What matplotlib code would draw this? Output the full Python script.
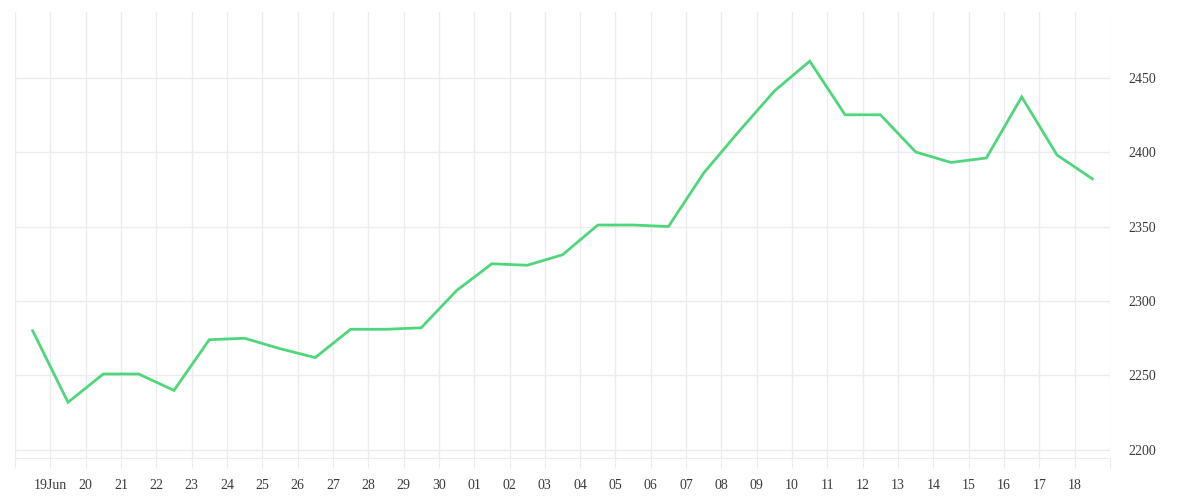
import matplotlib.pyplot as plt

# daily values, 18 Jun .. 18 Jul (plotted at midday)
values = [2280, 2232, 2251, 2251, 2240, 2274, 2275, 2268, 2262, 2281,
          2281, 2282, 2307, 2325, 2324, 2331, 2351, 2351, 2350, 2386,
          2414, 2441, 2461, 2425, 2425, 2400, 2393, 2396, 2437, 2398,
          2382]
day_labels = ["", "19Jun", "20", "21", "22", "23", "24", "25", "26", "27",
              "28", "29", "30", "01", "02", "03", "04", "05", "06", "07",
              "08", "09", "10", "11", "12", "13", "14", "15", "16", "17",
              "18", ""]
y_ticks = [2200, 2250, 2300, 2350, 2400, 2450]

fig = plt.figure(figsize=(12, 5), dpi=100)
ax = fig.add_axes([15 / 1200, 42 / 500, 1095 / 1200, 446 / 500])

xs = [i + 0.5 for i in range(len(values))]
ax.plot(xs, values, color='#4fd67c', linewidth=2.0, solid_joinstyle='miter')

ax.set_xlim(0, len(values))
ax.set_ylim(2194.6, 2494)

ax.set_xticks(range(len(day_labels)))
ax.set_xticklabels(day_labels)
ax.set_yticks(y_ticks)
ax.yaxis.tick_right()

ax.grid(True, color='#ececec', linewidth=1)
ax.set_axisbelow(True)
for s in ['top', 'left', 'right']:
    ax.spines[s].set_visible(False)
ax.spines['bottom'].set_color('#ececec')

ax.tick_params(axis='x', length=7, color='#ececec', pad=8,
               labelsize=10, labelcolor='#3a3a3a')
ax.tick_params(axis='y', length=0, pad=13, labelsize=10, labelcolor='#3a3a3a')
for lab in ax.get_xticklabels() + ax.get_yticklabels():
    lab.set_family('Liberation Serif')

fig.savefig('out.png', dpi=100)
